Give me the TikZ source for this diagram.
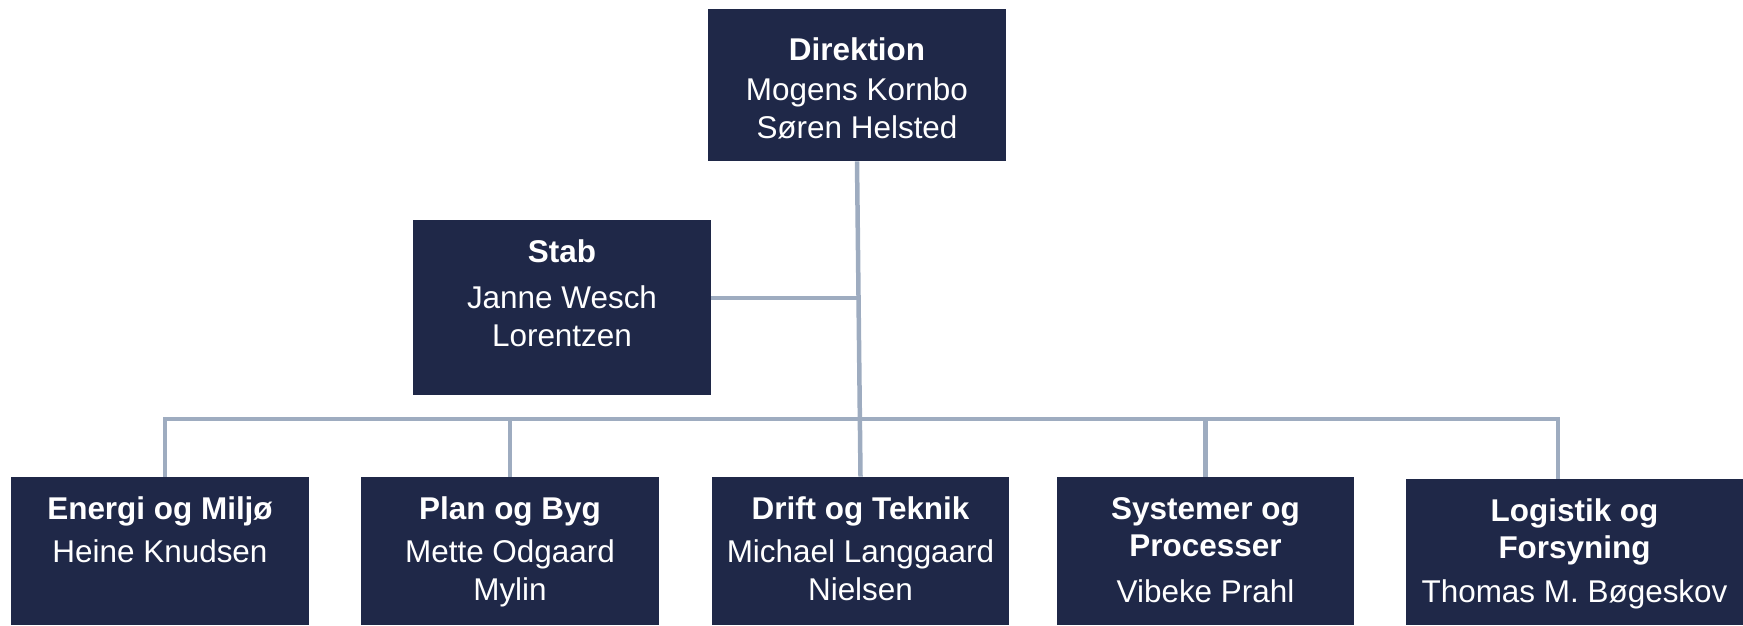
\documentclass[tikz,border=0pt]{standalone}
\usepackage{fontspec}
\setmainfont{Liberation Sans}
\usepackage{tikz}

% text of one unit box: width, height, first baseline, gap, title, names
\newcommand{\unittext}[6]{\parbox[c][#2][t]{#1}{\centering\rule{0pt}{#3}\textbf{#5}\\[#4]#6}}

\begin{document}
\begin{tikzpicture}[x=0.02cm,y=-0.02cm]
\definecolor{unitblue}{RGB}{31,40,72}
\definecolor{linkgrey}{RGB}{158,172,192}
\tikzset{
  unit/.style={fill=unitblue,text=white,inner sep=0pt,font=\fontsize{17.9}{21.6}\selectfont},
  link/.style={draw=linkgrey,line width=0.09cm},
}
\useasboundingbox (0,0) rectangle (1743,625);
% top level
\node [unit] (dir) at (857,85) {\unittext{5.96cm}{3.04cm}{1.02cm}{0.05cm}{Direktion}{Mogens Kornbo\\Søren Helsted}};
\node [unit] (stab) at (562,307.5) {\unittext{5.96cm}{3.5cm}{0.84cm}{0.18cm}{Stab}{Janne Wesch\\Lorentzen}};
% departments
\node [unit] (e1) at (160,551) {\unittext{5.96cm}{2.96cm}{0.84cm}{0.12cm}{Energi og Miljø}{Heine Knudsen}};
\node [unit] (e2) at (510,551) {\unittext{5.96cm}{2.96cm}{0.84cm}{0.12cm}{Plan og Byg}{Mette Odgaard\\Mylin}};
\node [unit] (e3) at (860.5,551) {\unittext{5.96cm}{2.96cm}{0.84cm}{0.12cm}{Drift og Teknik}{Michael Langgaard\\Nielsen}};
\node [unit] (e4) at (1205.5,551) {\unittext{5.96cm}{2.96cm}{0.84cm}{0.16cm}{Systemer og\\Processer}{Vibeke Prahl}};
\node [unit] (e5) at (1574.5,552) {\unittext{6.74cm}{2.92cm}{0.84cm}{0.12cm}{Logistik og\\Forsyning}{Thomas M. Bøgeskov}};
% connectors
\coordinate (stabjoin) at (858,298);
\coordinate (bus) at (859,419);
\draw [link] (dir.south) -- (e3.north);
\draw [link] (stabjoin) -- (stabjoin -| stab.east);
\draw [link] ([xshift=0.1cm]e1.north) |- (bus) -| ([xshift=-0.33cm]e5.north);
\draw [link] (e2.north) -- (e2.north |- bus);
\draw [link] (e4.north) -- (e4.north |- bus);
\end{tikzpicture}
\end{document}
